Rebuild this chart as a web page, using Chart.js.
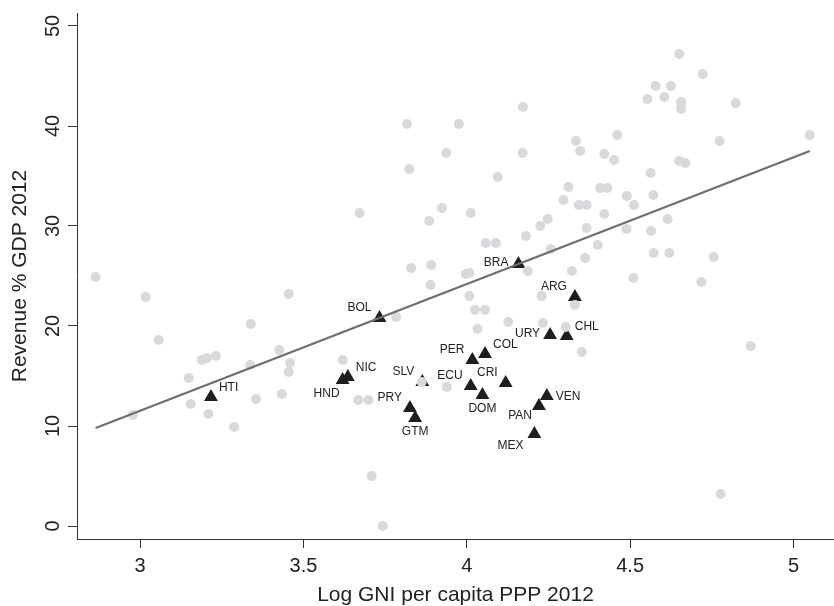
<!DOCTYPE html>
<html>
<head>
<meta charset="utf-8">
<script src="https://cdn.jsdelivr.net/npm/chart.js@4.4.1/dist/chart.umd.min.js"></script>
<style>
  html, body { margin: 0; padding: 0; background: #fff; }
  #wrap { width: 834px; height: 606px; }
</style>
</head>
<body>
<div id="wrap"><canvas id="grafico" width="834" height="606"></canvas></div>
<script>
// Latin American countries (black triangles)
const latamCodes = ['HTI', 'BOL', 'NIC', 'HND', 'SLV', 'PRY', 'GTM', 'PER', 'COL', 'ECU',
                    'CRI', 'DOM', 'VEN', 'PAN', 'MEX', 'URY', 'CHL', 'BRA', 'ARG'];
const latamGni = [3.217, 3.733, 3.636, 3.620, 3.864, 3.826, 3.842, 4.017, 4.056, 4.012,
                  4.119, 4.048, 4.245, 4.221, 4.207, 4.255, 4.306, 4.158, 4.331];
const latamRev = [12.9, 20.8, 14.9, 14.6, 14.4, 11.8, 10.8, 16.6, 17.2, 14.0,
                  14.3, 13.1, 13.0, 12.0, 9.2, 19.1, 19.0, 26.2, 22.9];
// where each country code sits around its triangle
const latamLabelPos = ['ne', 'nw', 'ne', 'ssw', 'nw', 'nw', 's', 'nw', 'ne', 'nw',
                       'nw', 's', 'e', 'wsw', 'sw', 'w', 'ne', 'w', 'nw'];

// rest of the world (grey dots)
const otherGni = [2.864, 2.978, 3.017, 3.057, 3.149, 3.155, 3.189, 3.204, 3.209, 3.232,
                  3.288, 3.337, 3.339, 3.355, 3.426, 3.434, 3.455, 3.455, 3.459, 3.620,
                  3.668, 3.699, 3.672, 3.709, 3.743, 3.784, 3.817, 3.824, 3.830, 3.862,
                  3.885, 3.889, 3.891, 3.924, 3.937, 3.939, 3.976, 3.997, 4.008, 4.008,
                  4.012, 4.025, 4.033, 4.056, 4.058, 4.089, 4.095, 4.127, 4.171, 4.172,
                  4.181, 4.187, 4.225, 4.229, 4.233, 4.248, 4.257, 4.296, 4.303, 4.311,
                  4.322, 4.331, 4.334, 4.343, 4.347, 4.352, 4.362, 4.367, 4.367, 4.401,
                  4.408, 4.421, 4.421, 4.430, 4.451, 4.461, 4.489, 4.490, 4.510, 4.512,
                  4.553, 4.563, 4.564, 4.571, 4.572, 4.578, 4.605, 4.615, 4.620, 4.625,
                  4.650, 4.650, 4.656, 4.656, 4.669, 4.718, 4.722, 4.756, 4.774, 4.777,
                  4.823, 4.869, 5.050];
const otherRev = [24.9, 11.1, 22.9, 18.6, 14.8, 12.2, 16.6, 16.8, 11.2, 17.0,
                  9.9, 16.1, 20.2, 12.7, 17.6, 13.2, 23.2, 15.4, 16.3, 16.6,
                  12.6, 12.6, 31.3, 5.0, 0.0, 20.9, 40.2, 35.7, 25.8, 14.4,
                  30.5, 24.1, 26.1, 31.8, 37.3, 13.9, 40.2, 25.2, 25.3, 23.0,
                  31.3, 21.6, 19.7, 21.6, 28.3, 28.3, 34.9, 20.4, 37.3, 41.9,
                  29.0, 25.5, 30.0, 23.0, 20.3, 30.7, 27.7, 32.6, 19.9, 33.9,
                  25.5, 22.1, 38.5, 32.1, 37.5, 17.4, 26.8, 32.1, 29.8, 28.1,
                  33.8, 37.2, 31.2, 33.8, 36.6, 39.1, 29.7, 33.0, 24.8, 32.1,
                  42.7, 35.3, 29.5, 33.1, 27.3, 44.0, 42.9, 30.7, 27.3, 44.0,
                  47.2, 36.5, 42.4, 41.7, 36.3, 24.4, 45.2, 26.9, 38.5, 3.2,
                  42.3, 18.0, 39.1];

// fitted line end points
const fitGni = [2.864, 5.05];
const fitRev = [9.8, 37.5];

const xTicks = [3, 3.5, 4, 4.5, 5];
const yTicks = [0, 10, 20, 30, 40, 50];

const fonte = '"Liberation Sans", Arial, Helvetica, sans-serif';
Chart.defaults.font.family = fonte;
Chart.defaults.color = '#222';

// offsets [dx, dy, align] of a country code from its triangle
const desloc = {
  ne: [8, -9, 'left'],
  nw: [-8, -10, 'right'],
  w: [-10, -1, 'right'],
  e: [9, 1, 'left'],
  s: [0, 14, 'center'],
  ssw: [-3, 14, 'right'],
  sw: [-11, 12, 'right'],
  wsw: [-7, 10, 'right']
};

const rotulos = {
  id: 'rotulos',
  afterDatasetsDraw(chart) {
    const { ctx, scales: { y } } = chart;
    ctx.save();
    ctx.fillStyle = '#222';
    ctx.textBaseline = 'middle';
    // y tick labels, turned like the reference
    ctx.font = '20px ' + fonte;
    ctx.textAlign = 'center';
    yTicks.forEach(v => {
      ctx.save();
      ctx.translate(y.right - 24, y.getPixelForValue(v));
      ctx.rotate(-Math.PI / 2);
      ctx.fillText(String(v), 0, 0);
      ctx.restore();
    });
    // country codes
    ctx.font = '12px ' + fonte;
    const meta = chart.getDatasetMeta(2);
    meta.data.forEach((pt, i) => {
      const [dx, dy, align] = desloc[latamLabelPos[i]];
      ctx.textAlign = align;
      ctx.fillText(latamCodes[i], pt.x + dx, pt.y + dy);
    });
    ctx.restore();
  }
};

const eixo = {
  grid: { drawOnChartArea: false, drawTicks: true, tickLength: 9, color: '#333', lineWidth: 1 },
  border: { display: true, color: '#333', width: 1 }
};

new Chart(document.getElementById('grafico'), {
  type: 'scatter',
  data: {
    datasets: [
      {
        data: fitGni.map((x, i) => ({ x, y: fitRev[i] })),
        showLine: true,
        borderColor: '#6e6e6e',
        borderWidth: 2.2,
        pointRadius: 0
      },
      {
        data: otherGni.map((x, i) => ({ x, y: otherRev[i] })),
        backgroundColor: '#d9d9dc',
        borderWidth: 0,
        pointRadius: 5
      },
      {
        data: latamGni.map((x, i) => ({ x, y: latamRev[i] })),
        pointStyle: 'triangle',
        backgroundColor: '#1e1e1e',
        borderWidth: 0,
        pointRadius: 8
      }
    ]
  },
  options: {
    responsive: false,
    animation: false,
    layout: { autoPadding: false, padding: { top: 13, left: 0, right: 0, bottom: 0 } },
    plugins: { legend: { display: false }, tooltip: { enabled: false } },
    scales: {
      x: {
        type: 'linear',
        min: 2.807,
        max: 5.124,
        afterBuildTicks: s => { s.ticks = xTicks.map(v => ({ value: v })); },
        afterFit: s => { s.height = 67; },
        ...eixo,
        ticks: { font: { size: 20 }, padding: 6, autoSkip: false, maxRotation: 0, callback: v => String(v) },
        title: {
          display: true,
          text: 'Log GNI per capita PPP 2012',
          font: { size: 21, lineHeight: 1 },
          padding: { top: 0, bottom: 0 }
        }
      },
      y: {
        type: 'linear',
        min: -1.3,
        max: 51.3,
        afterBuildTicks: s => { s.ticks = yTicks.map(v => ({ value: v })); },
        afterFit: s => { s.width = 77; },
        ...eixo,
        ticks: { display: false },
        title: {
          display: true,
          text: 'Revenue % GDP 2012',
          font: { size: 21, lineHeight: 1 },
          padding: { top: 10, bottom: 0 }
        }
      }
    }
  },
  plugins: [rotulos]
});
</script>
</body>
</html>
